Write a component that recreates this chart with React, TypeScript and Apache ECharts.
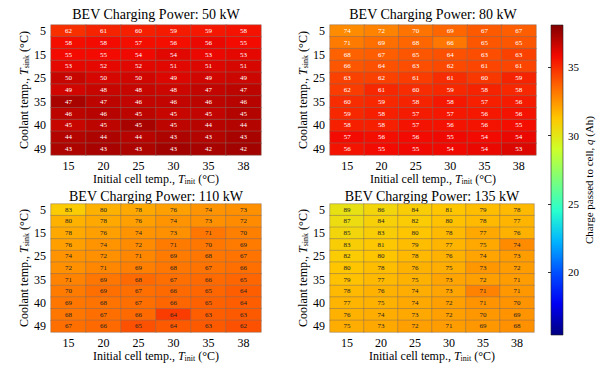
import React, { useEffect, useRef } from "react";
import * as echarts from "echarts";

const cellTemps = ["15", "20", "25", "30", "35", "38"];
const coolantTemps = ["5", "10", "15", "20", "25", "30", "35", "38", "40", "45", "49"];
const powers = ["50 kW", "80 kW", "110 kW", "135 kW"];
const colorbarTicks = [20, 25, 30, 35];

// numbers printed in the cells
const n50 = [
  [62, 61, 60, 59, 59, 58],
  [58, 58, 57, 56, 56, 55],
  [55, 55, 54, 54, 53, 53],
  [53, 52, 52, 51, 51, 51],
  [50, 50, 50, 49, 49, 49],
  [49, 48, 48, 48, 47, 47],
  [47, 47, 46, 46, 46, 46],
  [46, 46, 45, 45, 45, 45],
  [45, 45, 45, 45, 44, 44],
  [44, 44, 44, 43, 43, 43],
  [43, 43, 43, 43, 42, 42],
];
const n80 = [
  [74, 72, 70, 69, 67, 67],
  [71, 69, 68, 66, 65, 65],
  [68, 67, 65, 64, 63, 63],
  [66, 64, 63, 62, 61, 61],
  [63, 62, 61, 61, 60, 59],
  [62, 61, 60, 59, 58, 58],
  [60, 59, 58, 58, 57, 56],
  [59, 58, 57, 57, 56, 56],
  [58, 58, 57, 56, 56, 55],
  [57, 56, 56, 55, 54, 54],
  [56, 55, 55, 54, 54, 53],
];
const n110 = [
  [83, 80, 78, 76, 74, 73],
  [80, 78, 76, 74, 73, 72],
  [78, 76, 74, 73, 71, 70],
  [76, 74, 72, 71, 70, 69],
  [74, 72, 71, 69, 68, 67],
  [72, 71, 69, 68, 67, 66],
  [71, 69, 68, 67, 66, 65],
  [70, 69, 67, 66, 65, 64],
  [69, 68, 67, 66, 65, 64],
  [68, 67, 66, 64, 63, 63],
  [67, 66, 65, 64, 63, 62],
];
const n135 = [
  [89, 86, 84, 81, 79, 78],
  [87, 84, 82, 80, 78, 77],
  [85, 83, 80, 78, 77, 76],
  [83, 81, 79, 77, 75, 74],
  [82, 80, 78, 76, 74, 73],
  [80, 78, 76, 75, 73, 72],
  [79, 77, 75, 73, 72, 71],
  [78, 76, 74, 73, 71, 71],
  [77, 75, 74, 72, 71, 70],
  [76, 74, 73, 72, 70, 69],
  [75, 73, 72, 71, 69, 68],
];

// charge passed to cell q (Ah)
const q50 = [
  [34.9, 35.2, 35.3, 35.4, 35.5, 35.6],
  [35.7, 35.8, 35.7, 35.7, 36.0, 35.8],
  [35.8, 35.8, 35.9, 36.2, 36.0, 36.1],
  [36.1, 36.1, 36.2, 36.2, 36.3, 36.4],
  [36.7, 36.4, 36.5, 36.3, 36.5, 36.6],
  [36.5, 36.7, 36.7, 36.6, 36.8, 36.9],
  [37.3, 36.9, 36.8, 36.8, 36.9, 37.0],
  [36.9, 37.0, 36.9, 36.7, 36.8, 37.1],
  [36.7, 36.9, 37.3, 36.9, 37.0, 37.1],
  [37.1, 37.2, 37.0, 37.2, 37.1, 37.3],
  [37.2, 37.3, 37.2, 37.4, 37.3, 37.4],
];
const q80 = [
  [32.7, 32.9, 33.3, 33.6, 33.9, 33.8],
  [33.1, 33.4, 33.6, 33.2, 34.0, 34.0],
  [33.7, 33.8, 34.0, 34.1, 34.2, 34.5],
  [34.0, 34.1, 34.2, 34.3, 34.4, 34.4],
  [34.5, 34.5, 34.6, 35.0, 34.7, 35.2],
  [34.6, 35.1, 35.0, 35.1, 35.2, 35.1],
  [35.0, 35.1, 35.2, 35.5, 35.3, 35.4],
  [35.1, 35.3, 35.4, 35.5, 35.5, 35.6],
  [35.3, 35.3, 35.6, 35.6, 35.6, 35.7],
  [35.8, 35.7, 35.8, 35.9, 35.8, 36.0],
  [35.6, 35.8, 35.9, 35.9, 36.0, 36.3],
];
const q110 = [
  [31.1, 31.8, 32.0, 32.2, 32.5, 32.6],
  [31.8, 32.0, 32.2, 32.5, 32.6, 32.7],
  [32.0, 32.2, 32.5, 32.6, 33.2, 33.0],
  [32.2, 32.5, 32.7, 33.1, 33.2, 33.1],
  [32.5, 32.6, 32.8, 33.1, 33.2, 33.3],
  [32.6, 32.8, 33.0, 33.2, 33.3, 33.4],
  [32.9, 33.2, 33.5, 33.4, 33.5, 33.6],
  [33.1, 33.4, 33.4, 33.5, 33.6, 33.8],
  [33.2, 33.3, 33.4, 33.6, 33.7, 33.8],
  [33.2, 33.4, 33.5, 34.6, 33.8, 33.9],
  [33.4, 33.5, 34.1, 33.9, 33.9, 34.1],
];
const q135 = [
  [30.2, 30.7, 31.0, 31.3, 31.5, 31.6],
  [30.4, 30.9, 31.1, 31.4, 31.6, 31.7],
  [30.7, 31.0, 31.3, 31.6, 32.0, 31.8],
  [31.0, 31.2, 31.5, 31.7, 32.0, 32.7],
  [31.1, 31.3, 31.6, 31.8, 32.1, 32.3],
  [31.3, 31.5, 31.8, 31.9, 32.4, 32.3],
  [31.4, 31.6, 31.8, 32.1, 32.2, 32.3],
  [31.6, 31.8, 31.9, 32.1, 32.9, 32.4],
  [31.7, 31.8, 32.0, 32.2, 32.5, 32.5],
  [31.8, 31.9, 32.0, 32.2, 32.4, 32.5],
  [31.9, 32.0, 32.2, 32.3, 32.4, 32.6],
];

const numbers = [n50, n80, n110, n135];
const charges = [q50, q80, q110, q135];
const labelColors = ["#ffffff", "#ffffff", "#222222", "#222222"];

const qMin = 15.4;
const qMax = 38.1;
const jet = [
  "#000080", "#0000f3", "#004dff", "#00b3ff", "#29ffce", "#7bff7b",
  "#ceff29", "#ffc600", "#ff6800", "#f30900", "#800000",
];

const FONT = "Liberation Serif";

const grids = [
  { left: 51, top: 25, width: 210, height: 130 },
  { left: 330, top: 25, width: 206, height: 130 },
  { left: 51, top: 204, width: 210, height: 128 },
  { left: 330, top: 204, width: 204, height: 128 },
];
const titlePos = [
  [156, 14],
  [433, 14],
  [156, 196],
  [432, 196],
];

export default function App() {
  const ref = useRef<HTMLDivElement>(null);
  useEffect(() => {
    if (!ref.current) return;
    const chart = echarts.init(ref.current, undefined, { renderer: "svg" });
    const rich = {
      n: { fontFamily: FONT, fontSize: 12, color: "#000", lineHeight: 13, verticalAlign: "middle" },
      i: { fontStyle: "italic", fontFamily: FONT, fontSize: 12, color: "#000", lineHeight: 13, verticalAlign: "middle" },
      s: { fontFamily: FONT, fontSize: 8, color: "#000", lineHeight: 13, verticalAlign: "bottom" },
    };
    const xAxes: any[] = grids.map((_, i) => ({
      type: "category",
      gridIndex: i,
      data: cellTemps,
      axisLine: { show: false },
      axisTick: { show: false },
      splitLine: { show: false },
      axisLabel: { fontFamily: FONT, fontSize: 12, color: "#000", margin: 5 },
      name: "{n|Initial cell temp., }{i|T}{s|init}{n| (°C)}",
      nameLocation: "middle",
      nameGap: 17,
      nameTextStyle: { fontFamily: FONT, fontSize: 12, color: "#000", rich },
    }));
    const yAxes: any[] = grids.map((_, i) => ({
      type: "category",
      gridIndex: i,
      data: coolantTemps,
      inverse: true,
      axisLine: { show: false },
      axisTick: { show: false },
      splitLine: { show: false },
      axisLabel: { fontFamily: FONT, fontSize: 12, color: "#000", margin: 5 },
      name: "{n|Coolant temp., }{i|T}{s|sink}{n| (°C)}",
      nameLocation: "middle",
      nameRotate: 90,
      nameGap: 19,
      nameTextStyle: { fontFamily: FONT, fontSize: 12, color: "#000", rich },
    }));
    xAxes.push({ type: "value", gridIndex: 4, show: false, min: 0, max: 1 });
    yAxes.push({
      type: "value",
      gridIndex: 4,
      min: qMin,
      max: qMax,
      position: "right",
      axisLine: { show: false },
      splitLine: { show: false },
      axisTick: { show: true, inside: true, length: 3, customValues: colorbarTicks, lineStyle: { color: "#333" } },
      axisLabel: { customValues: colorbarTicks, fontFamily: FONT, fontSize: 11, color: "#000", margin: 5 },
      name: "{n|Charge passed to cell, }{i|q}{n| (Ah)}",
      nameLocation: "middle",
      nameRotate: 90,
      nameGap: 20,
      nameTextStyle: {
        fontFamily: FONT,
        fontSize: 11,
        color: "#000",
        rich: {
          n: { fontFamily: FONT, fontSize: 11, color: "#000" },
          i: { fontStyle: "italic", fontFamily: FONT, fontSize: 11, color: "#000" },
        },
      },
    });

    const series: any[] = numbers.map((nm, p) => {
      const data: any[] = [];
      nm.forEach((row, r) =>
        row.forEach((v, c) => data.push([c, r, v, charges[p][r][c]]))
      );
      return {
        type: "heatmap",
        xAxisIndex: p,
        yAxisIndex: p,
        data,
        itemStyle: { borderColor: "rgba(130,110,100,0.8)", borderWidth: 0.6 },
        label: {
          show: true,
          formatter: (pr: any) => String(pr.value[2]),
          fontFamily: FONT,
          fontSize: 7,
          color: labelColors[p],
        },
        emphasis: { disabled: true },
      };
    });

    const graphic: any[] = titlePos.map((pos, i) => ({
      type: "text",
      x: pos[0],
      y: pos[1],
      style: {
        text: "BEV Charging Power: " + powers[i],
        fontFamily: FONT,
        fontSize: 14,
        fill: "#000",
        textAlign: "center",
        textVerticalAlign: "middle",
      },
    }));
    const stops = jet.map((c, i) => ({ offset: i / (jet.length - 1), color: c }));
    graphic.push({
      type: "rect",
      shape: { x: 551, y: 25, width: 12, height: 310 },
      style: {
        fill: new echarts.graphic.LinearGradient(0, 1, 0, 0, stops),
        stroke: "#222",
        lineWidth: 0.6,
      },
      z: 10,
    });

    chart.setOption({
      animation: false,
      backgroundColor: "#ffffff",
      grid: [...grids, { left: 551, top: 25, width: 12, height: 310 }],
      xAxis: xAxes,
      yAxis: yAxes,
      visualMap: {
        show: false,
        type: "continuous",
        min: qMin,
        max: qMax,
        dimension: 3,
        seriesIndex: [0, 1, 2, 3],
        inRange: { color: jet },
      },
      series,
      graphic,
    });
    return () => chart.dispose();
  }, []);
  return (
    <div
      ref={ref}
      style={{ position: "fixed", left: 0, top: 0, width: 600, height: 369 }}
    />
  );
}
